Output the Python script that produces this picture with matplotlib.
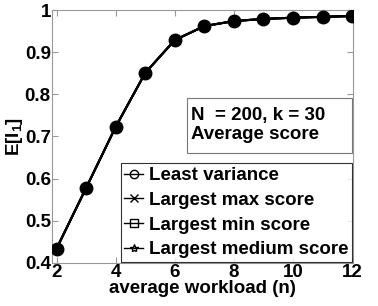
import matplotlib
matplotlib.use('Agg')
import matplotlib.pyplot as plt
from matplotlib.patches import Rectangle

plt.rcParams['font.family'] = 'Liberation Sans'
plt.rcParams['font.weight'] = 'bold'
plt.rcParams['mathtext.default'] = 'regular'

# data
workload = [2, 3, 4, 5, 6, 7, 8, 9, 10, 11, 12]
least_variance = [0.434, 0.578, 0.723, 0.851, 0.929, 0.962, 0.974, 0.979, 0.982, 0.984, 0.986]
largest_max = [0.434, 0.578, 0.723, 0.851, 0.929, 0.962, 0.974, 0.979, 0.982, 0.984, 0.986]
largest_min = [0.434, 0.578, 0.723, 0.851, 0.929, 0.962, 0.974, 0.979, 0.982, 0.984, 0.986]
largest_medium = [0.434, 0.578, 0.723, 0.851, 0.929, 0.962, 0.974, 0.979, 0.982, 0.984, 0.986]
labels = ['Least variance', 'Largest max score', 'Largest min score', 'Largest medium score']
markers = ['o', 'x', 's', '*']

fig = plt.figure(figsize=(3.78, 3.06), dpi=100)
ax = fig.add_axes([0.138, 0.141, 0.796, 0.826])

series = [least_variance, largest_max, largest_min, largest_medium]
for i, (vals, lab, mk) in enumerate(zip(series, labels, markers)):
    ax.plot(workload, vals, color='black', lw=1.5, marker=mk, ms=9 if mk == 'o' else 5,
            mfc='black', mec='black', label=lab, zorder=5 - i)

ax.set_xlim(1.85, 12.03)
ax.set_ylim(0.4, 1.0)
ax.set_xticks([2, 4, 6, 8, 10, 12])
ax.set_yticks([0.4, 0.5, 0.6, 0.7, 0.8, 0.9, 1.0])
ax.set_yticklabels(['0.4', '0.5', '0.6', '0.7', '0.8', '0.9', '1'])
ax.tick_params(direction='in', top=True, right=True, labelsize=13.5, length=4,
               color='#999999', pad=1)
for s in ax.spines.values():
    s.set_color('#999999')

ax.set_xlabel('average workload (n)', fontsize=13.5, fontweight='bold', labelpad=-1)
ax.set_ylabel('E[I$_1$]', fontsize=13.5, fontweight='bold', labelpad=0)

leg = ax.legend(loc='lower right', fontsize=13.5, frameon=True, fancybox=False,
                edgecolor='black', handlelength=1.0, handletextpad=0.3,
                labelspacing=0.4, borderpad=0.2, borderaxespad=0.05)
leg.get_frame().set_linewidth(0.8)
for h in leg.legend_handles:
    h.set_markersize(6)
    h.set_markerfacecolor('none')
    h.set_linewidth(1.0)

# annotation box
ax.add_patch(Rectangle((0.447, 0.435), 0.55, 0.217, transform=ax.transAxes,
                       fc='white', ec='#777777', lw=0.8, zorder=6))
ax.text(0.462, 0.615, 'N  = 200, k = 30\nAverage score', transform=ax.transAxes,
        fontsize=13.5, fontweight='bold', ha='left', va='top', linespacing=1.1,
        zorder=7)

fig.savefig('out.png', dpi=100)
